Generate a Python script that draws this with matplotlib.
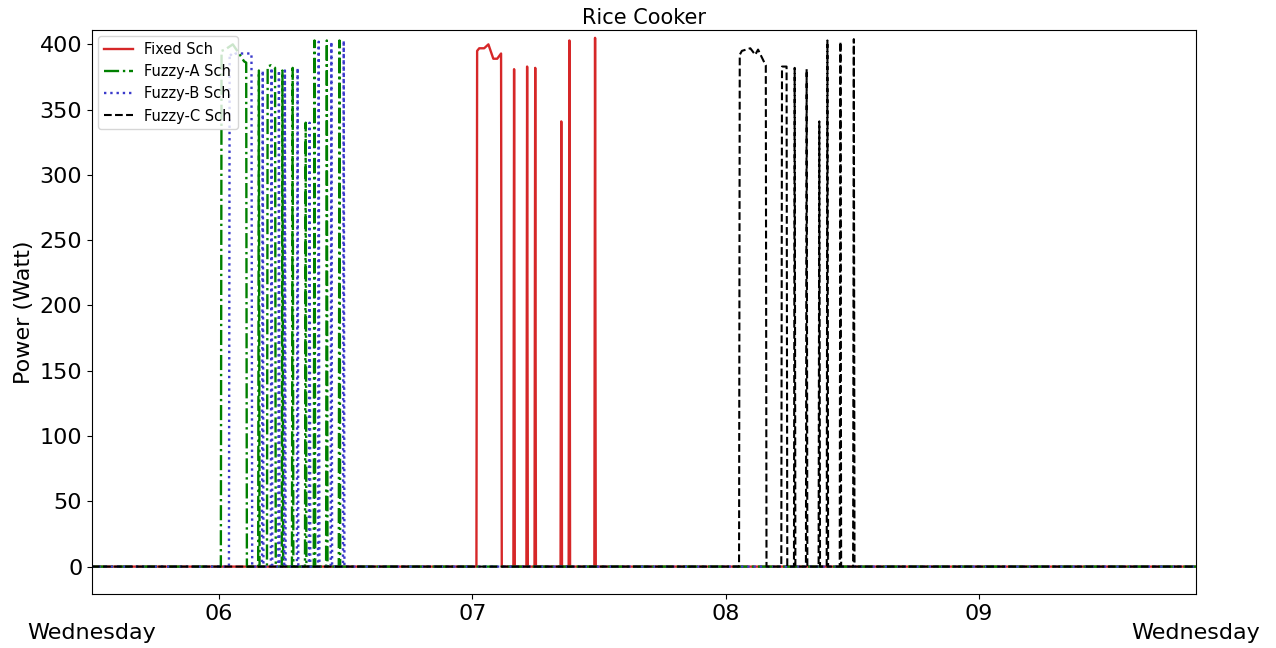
import matplotlib
matplotlib.use('Agg')
import matplotlib.pyplot as plt
import matplotlib.dates as mdates
import pandas as pd

day = '2021-01-06'
t_start, t_end = '05:30:00', '09:51:20'

# power readings (W) for each run, as (clock time, watt) pairs
fixed_sch = [
    [('07:01:10', 395), ('07:01:40', 397), ('07:02:50', 397), ('07:03:50', 400),
     ('07:05:00', 389), ('07:05:55', 389), ('07:06:50', 393)],
    [('07:09:55', 381)],
    [('07:13:00', 383)],
    [('07:14:55', 382)],
    [('07:21:05', 341)],
    [('07:23:00', 403)],
    [('07:29:05', 405)],
]
fuzzy_a_sch = [
    [('06:00:40', 395), ('06:01:30', 396), ('06:03:20', 400), ('06:04:10', 396),
     ('06:05:00', 392), ('06:06:00', 387), ('06:06:30', 386)],
    [('06:09:30', 380)],
    [('06:11:35', 383), ('06:12:20', 384), ('06:13:20', 382)],
    [('06:15:05', 380)],
    [('06:17:30', 382)],
    [('06:20:35', 340)],
    [('06:22:40', 403)],
    [('06:25:35', 403)],
    [('06:28:35', 403)],
]
fuzzy_b_sch = [
    [('06:02:35', 393), ('06:03:10', 391), ('06:04:00', 393), ('06:07:45', 393)],
    [('06:10:25', 380)],
    [('06:12:30', 382)],
    [('06:14:15', 380)],
    [('06:15:40', 380)],
    [('06:18:40', 382)],
    [('06:21:30', 340)],
    [('06:23:40', 402)],
    [('06:26:40', 402)],
    [('06:29:35', 403)],
]
fuzzy_c_sch = [
    [('08:03:20', 392), ('08:03:50', 395), ('08:05:50', 397), ('08:07:00', 392),
     ('08:07:40', 396), ('08:09:10', 386), ('08:09:30', 384)],
    [('08:13:20', 383), ('08:14:25', 383)],
    [('08:16:20', 382)],
    [('08:19:10', 381)],
    [('08:22:10', 341)],
    [('08:24:05', 403)],
    [('08:27:10', 402)],
    [('08:30:20', 404)],
]


def to_series(pulses):
    # off (0 W) between pulses, switching takes one 10 s sample
    step = pd.Timedelta(seconds=10)
    t = [pd.Timestamp(day + ' ' + t_start)]
    p = [0]
    for pulse in pulses:
        first = pd.Timestamp(day + ' ' + pulse[0][0])
        last = pd.Timestamp(day + ' ' + pulse[-1][0])
        t.append(first - step); p.append(0)
        for hhmm, w in pulse:
            t.append(pd.Timestamp(day + ' ' + hhmm)); p.append(w)
        t.append(last + step); p.append(0)
    t.append(pd.Timestamp(day + ' ' + t_end)); p.append(0)
    return t, p


fig = plt.figure(figsize=(12.76, 6.48), dpi=100)
ax = fig.add_axes([0.0721, 0.0833, 0.8652, 0.8704])

x, y = to_series(fixed_sch)
ax.plot(x, y, color='#d62728', lw=1.7, label='Fixed Sch')
x, y = to_series(fuzzy_a_sch)
ax.plot(x, y, color='green', lw=1.7, ls='-.', label='Fuzzy-A Sch')
x, y = to_series(fuzzy_b_sch)
ax.plot(x, y, color='#3a3acb', lw=1.7, ls=':', label='Fuzzy-B Sch')
x, y = to_series(fuzzy_c_sch)
ax.plot(x, y, color='black', lw=1.5, ls='--', label='Fuzzy-C Sch')

ax.set_xlim(pd.Timestamp(day + ' ' + t_start), pd.Timestamp(day + ' ' + t_end))
ax.set_ylim(-21, 411)
ax.set_yticks(range(0, 401, 50))

ax.xaxis.set_major_locator(mdates.HourLocator())
ax.xaxis.set_major_formatter(mdates.DateFormatter('%H'))
ax.set_xticks([pd.Timestamp(day + ' ' + t_start), pd.Timestamp(day + ' ' + t_end)], minor=True)
ax.set_xticklabels(['Wednesday', 'Wednesday'], minor=True)
ax.tick_params(axis='x', which='minor', length=0, labelsize=16, pad=21)
ax.tick_params(axis='both', which='major', labelsize=16)

ax.set_ylabel('Power (Watt)', fontsize=16)
ax.set_title('Rice Cooker', fontsize=15, pad=4)
ax.legend(loc='upper left', fontsize=10.5, borderaxespad=0.4)

plt.savefig('out.png', dpi=100)
